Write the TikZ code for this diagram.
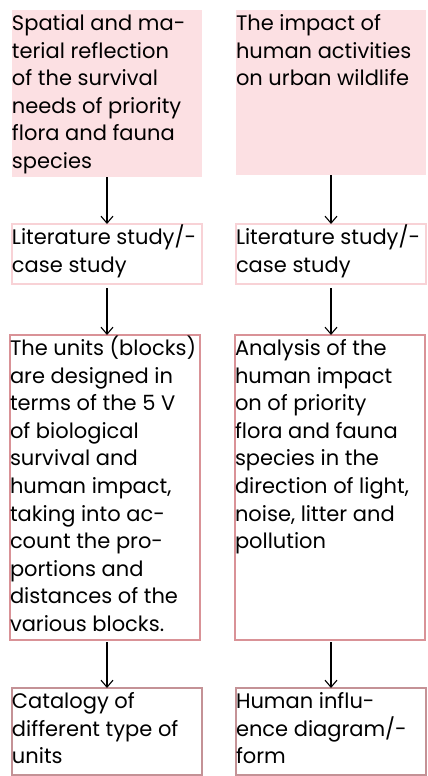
\documentclass[tikz,border=0pt]{standalone}
\usepackage{fontspec}
\setmainfont{Poppins}
\usetikzlibrary{arrows.meta}
\definecolor{pinkfill}{RGB}{252,224,227}
\definecolor{lightedge}{RGB}{248,210,214}
\definecolor{midedge}{RGB}{217,146,151}
\definecolor{darkedge}{RGB}{196,146,150}
\newcommand{\boxtxt}[3]{\parbox[c][#2][t]{#1}{\raggedright\rule{0pt}{20.5pt}#3}}
\tikzset{
  box/.style={anchor=north west,inner sep=0pt,outer sep=0pt,line width=1.2pt,
    font=\fontsize{21pt}{27.6pt}\selectfont},
  flow/.style={-{Straight Barb[length=7pt,width=12pt]},line width=1.1pt}
}
\begin{document}
\begin{tikzpicture}[x=1pt,y=-1pt]
\useasboundingbox (0,0) rectangle (428,776);
% first row: starting points
\node[box,fill=pinkfill] (needsL) at (12,10) {\boxtxt{190pt}{167pt}{Spatial and ma-\\terial reflection\\of the survival\\needs of priority\\flora and fauna\\species}};
\node[box,fill=pinkfill] (impactR) at (236,10) {\boxtxt{190pt}{165pt}{The impact of\\human activities\\on urban wildlife}};
% second row: study
\node[box,draw=lightedge] (litL) at (12,224) {\boxtxt{190pt}{60pt}{Literature study/-\\case study}};
\node[box,draw=lightedge] (litR) at (236,224) {\boxtxt{190pt}{60pt}{Literature study/-\\case study}};
% third row: design and analysis
\node[box,draw=midedge] (unitsL) at (10,335) {\boxtxt{190pt}{305pt}{The units (blocks)\\are designed in\\terms of the 5 V\\of biological\\survival and\\human impact,\\taking into ac-\\count the pro-\\portions and\\distances of the\\various blocks.}};
\node[box,draw=midedge] (analysisR) at (235,335) {\boxtxt{190pt}{305pt}{Analysis of the\\human impact\\on of priority\\flora and fauna\\species in the\\direction of light,\\noise, litter and\\pollution}};
% fourth row: results
\node[box,draw=darkedge] (catL) at (12,688) {\boxtxt{190pt}{87pt}{Catalogy of\\different type of\\units}};
\node[box,draw=darkedge] (formR) at (236,688) {\boxtxt{190pt}{87pt}{Human influ-\\ence diagram/-\\form}};
% arrows
\draw[flow] (needsL) -- (litL);
\draw[flow] (impactR) -- (litR);
\draw[flow,shorten <=4pt] (litL) -- (unitsL.north -| litL.south);
\draw[flow,shorten <=4pt] (litR) -- (analysisR.north -| litR.south);
\draw[flow,shorten <=2pt] (unitsL.south -| catL.north) -- (catL);
\draw[flow,shorten <=2pt] (analysisR.south -| formR.north) -- (formR);
\end{tikzpicture}
\end{document}
